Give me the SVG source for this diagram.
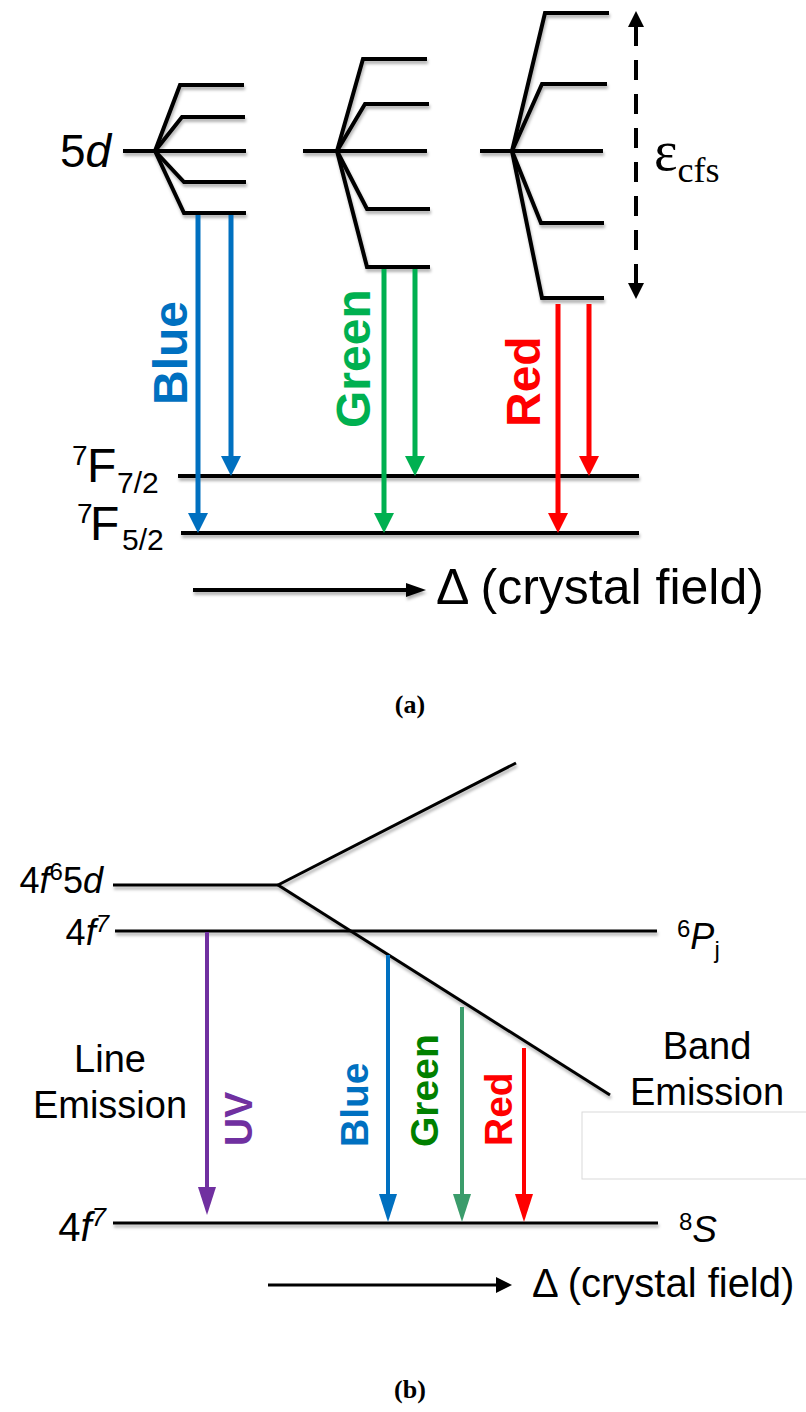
<svg xmlns="http://www.w3.org/2000/svg" width="806" height="1412" viewBox="0 0 806 1412">
<style>
  .lvA { fill: none; stroke: #000; stroke-width: 4; stroke-linejoin: miter; }
  .lvB { fill: none; stroke: #000; stroke-width: 3; }
  .sans { font-family: "Liberation Sans", Arial, sans-serif; fill: #000; }
  .serif { font-family: "Liberation Serif", "Times New Roman", serif; fill: #000; }
  .lab { font-family: "Liberation Sans", Arial, sans-serif; font-weight: bold; }
  .it { font-style: italic; }
</style>
<defs>
  <filter id="sh" filterUnits="userSpaceOnUse" x="0" y="0" width="806" height="1412">
    <feDropShadow dx="1" dy="3" stdDeviation="1.5" flood-color="#000" flood-opacity="0.3"/>
  </filter>
  <marker id="hBlue" markerUnits="userSpaceOnUse" markerWidth="20" markerHeight="20" viewBox="0 0 20 20" refX="1" refY="10" orient="auto"><path d="M0,0 L20,10 L0,20 z" fill="#0070C0"/></marker>
  <marker id="hGreen" markerUnits="userSpaceOnUse" markerWidth="20" markerHeight="20" viewBox="0 0 20 20" refX="1" refY="10" orient="auto"><path d="M0,0 L20,10 L0,20 z" fill="#00B050"/></marker>
  <marker id="hRed" markerUnits="userSpaceOnUse" markerWidth="20" markerHeight="20" viewBox="0 0 20 20" refX="1" refY="10" orient="auto"><path d="M0,0 L20,10 L0,20 z" fill="#FF0000"/></marker>
  <marker id="bUV" markerUnits="userSpaceOnUse" markerWidth="28" markerHeight="18" viewBox="0 0 28 18" refX="1" refY="9" orient="auto"><path d="M0,0 L28,9 L0,18 z" fill="#7030A0"/></marker>
  <marker id="bBlue" markerUnits="userSpaceOnUse" markerWidth="28" markerHeight="18" viewBox="0 0 28 18" refX="1" refY="9" orient="auto"><path d="M0,0 L28,9 L0,18 z" fill="#0070C0"/></marker>
  <marker id="bGreen" markerUnits="userSpaceOnUse" markerWidth="28" markerHeight="18" viewBox="0 0 28 18" refX="1" refY="9" orient="auto"><path d="M0,0 L28,9 L0,18 z" fill="#3B9C6B"/></marker>
  <marker id="bRed" markerUnits="userSpaceOnUse" markerWidth="28" markerHeight="18" viewBox="0 0 28 18" refX="1" refY="9" orient="auto"><path d="M0,0 L28,9 L0,18 z" fill="#FF0000"/></marker>
  <marker id="hBlk" markerUnits="userSpaceOnUse" markerWidth="16" markerHeight="16" viewBox="0 0 16 16" refX="1" refY="8" orient="auto-start-reverse"><path d="M0,0 L16,8 L0,16 z" fill="#000"/></marker>
  <marker id="hBlk2" markerUnits="userSpaceOnUse" markerWidth="20" markerHeight="14" viewBox="0 0 20 14" refX="1" refY="7" orient="auto-start-reverse"><path d="M0,0 L20,7 L0,14 z" fill="#000"/></marker>
</defs>

<!-- ===== Panel (a) ===== -->
<g id="a-5d-blue" filter="url(#sh)">
  <path class="lvA" d="M123,151 H246"/>
  <path class="lvA" d="M155,151 L180,85 H244"/>
  <path class="lvA" d="M155,151 L182,117 H245"/>
  <path class="lvA" d="M155,151 L184,182 H246"/>
  <path class="lvA" d="M155,151 L184,213 H246"/>
</g>
<g id="a-5d-green" filter="url(#sh)">
  <path class="lvA" d="M303,151 H427"/>
  <path class="lvA" d="M337,151 L363,59 H427"/>
  <path class="lvA" d="M337,151 L365,104 H429"/>
  <path class="lvA" d="M337,151 L367,209 H430"/>
  <path class="lvA" d="M337,151 L367,267 H430"/>
</g>
<g id="a-5d-red" filter="url(#sh)">
  <path class="lvA" d="M480,151 H603"/>
  <path class="lvA" d="M512,151 L545,13 H609"/>
  <path class="lvA" d="M512,151 L542,84 H607"/>
  <path class="lvA" d="M512,151 L541,223 H604"/>
  <path class="lvA" d="M512,151 L542,298 H604"/>
</g>
<g id="a-7F72" filter="url(#sh)">
  <path class="lvA" d="M178,476 H639"/>
</g>
<g id="a-7F52" filter="url(#sh)">
  <path class="lvA" d="M181,533 H639"/>
</g>

<g id="a-labels">
  <text class="sans" x="60" y="167" font-size="46">5<tspan class="it">d</tspan></text>
  <text class="sans" x="72" y="465" font-size="28">7</text>
  <text class="sans" x="87" y="482" font-size="48">F</text>
  <text class="sans" x="117" y="493" font-size="30">7/2</text>
  <text class="sans" x="77" y="523" font-size="28">7</text>
  <text class="sans" x="90" y="540" font-size="48">F</text>
  <text class="sans" x="122" y="550" font-size="30">5/2</text>
  <text class="serif" x="654" y="170" font-size="56">ε<tspan font-size="36" dy="12">cfs</tspan></text>
  <text class="lab" font-size="48" fill="#0070C0" transform="translate(187,405) rotate(-90)">Blue</text>
  <text class="lab" font-size="48" fill="#00B050" transform="translate(370,428) rotate(-90)">Green</text>
  <text class="lab" font-size="48" fill="#FF0000" transform="translate(540,427) rotate(-90)">Red</text>
  <text class="sans" x="436" y="604" font-size="50">Δ (crystal field)</text>
  <text class="serif" x="410" y="713" font-size="26" font-weight="bold" text-anchor="middle">(a)</text>
</g>

<g id="a-connectors">
  <line x1="198" y1="215" x2="198" y2="514" stroke="#0070C0" stroke-width="5" marker-end="url(#hBlue)"/>
  <line x1="231" y1="215" x2="231" y2="457" stroke="#0070C0" stroke-width="5" marker-end="url(#hBlue)"/>
  <line x1="384" y1="269" x2="384" y2="514" stroke="#00B050" stroke-width="5" marker-end="url(#hGreen)"/>
  <line x1="415" y1="269" x2="415" y2="457" stroke="#00B050" stroke-width="5" marker-end="url(#hGreen)"/>
  <line x1="558" y1="304" x2="558" y2="514" stroke="#FF0000" stroke-width="5" marker-end="url(#hRed)"/>
  <line x1="589" y1="304" x2="589" y2="457" stroke="#FF0000" stroke-width="5" marker-end="url(#hRed)"/>
  <line x1="636" y1="26" x2="636" y2="284" stroke="#000" stroke-width="4" stroke-dasharray="20 14" marker-start="url(#hBlk)" marker-end="url(#hBlk)"/>
  <g filter="url(#sh)">
    <line x1="193" y1="590" x2="407" y2="590" stroke="#000" stroke-width="4" marker-end="url(#hBlk2)"/>
  </g>
</g>

<!-- ===== Panel (b) ===== -->
<g id="b-4f65d" filter="url(#sh)">
  <path class="lvB" d="M113,885 H278"/>
  <path class="lvB" d="M278,885 L516,763"/>
  <path class="lvB" d="M278,885 L610,1095"/>
</g>
<g id="b-4f7-upper" filter="url(#sh)">
  <path class="lvB" d="M115,931 H657"/>
</g>
<g id="b-4f7-lower" filter="url(#sh)">
  <path class="lvB" d="M113,1223 H658"/>
</g>
<g id="b-box">
  <rect x="582" y="1112" width="230" height="67" fill="#fff" stroke="#d9d9d9" stroke-width="1"/>
</g>

<g id="b-labels">
  <text class="sans" x="103" y="893" font-size="36" text-anchor="end">4<tspan class="it">f</tspan><tspan font-size="24" dy="-13">6</tspan><tspan dy="13">5</tspan><tspan class="it">d</tspan></text>
  <text class="sans" x="109" y="945" font-size="36" text-anchor="end">4<tspan class="it">f</tspan><tspan class="it" font-size="24" dy="-13">7</tspan></text>
  <text class="sans" x="106" y="1241" font-size="40" text-anchor="end">4<tspan class="it">f</tspan><tspan class="it" font-size="26" dy="-15">7</tspan></text>
  <text class="sans" x="677" y="949" font-size="36"><tspan font-size="24" dy="-12">6</tspan><tspan class="it" dy="12">P</tspan><tspan font-size="24" dy="9">j</tspan></text>
  <text class="sans" x="679" y="1242" font-size="37"><tspan font-size="24" dy="-12">8</tspan><tspan class="it" dy="12">S</tspan></text>
  <text class="sans" x="110" y="1072" font-size="38" text-anchor="middle">Line</text>
  <text class="sans" x="110" y="1118" font-size="38" text-anchor="middle">Emission</text>
  <text class="sans" x="707" y="1059" font-size="38" text-anchor="middle">Band</text>
  <text class="sans" x="707" y="1105" font-size="38" text-anchor="middle">Emission</text>
  <text class="lab" font-size="39" fill="#7030A0" transform="translate(252,1146) rotate(-90)">UV</text>
  <text class="lab" font-size="39" fill="#0070C0" transform="translate(368,1147) rotate(-90)">Blue</text>
  <text class="lab" font-size="39" fill="#008000" transform="translate(438,1147) rotate(-90)">Green</text>
  <text class="lab" font-size="39" fill="#FF0000" transform="translate(512,1146) rotate(-90)">Red</text>
  <text class="sans" x="532" y="1297" font-size="40">Δ (crystal field)</text>
  <text class="serif" x="410" y="1398" font-size="26" font-weight="bold" text-anchor="middle">(b)</text>
</g>

<g id="b-connectors">
  <line x1="207" y1="932" x2="207" y2="1188" stroke="#7030A0" stroke-width="4" marker-end="url(#bUV)"/>
  <line x1="388" y1="955" x2="388" y2="1195" stroke="#0070C0" stroke-width="4" marker-end="url(#bBlue)"/>
  <line x1="462" y1="1007" x2="462" y2="1195" stroke="#3B9C6B" stroke-width="4" marker-end="url(#bGreen)"/>
  <line x1="524" y1="1048" x2="524" y2="1195" stroke="#FF0000" stroke-width="4" marker-end="url(#bRed)"/>
  <line x1="268" y1="1285" x2="497" y2="1285" stroke="#000" stroke-width="3" marker-end="url(#hBlk)"/>
</g>
</svg>
